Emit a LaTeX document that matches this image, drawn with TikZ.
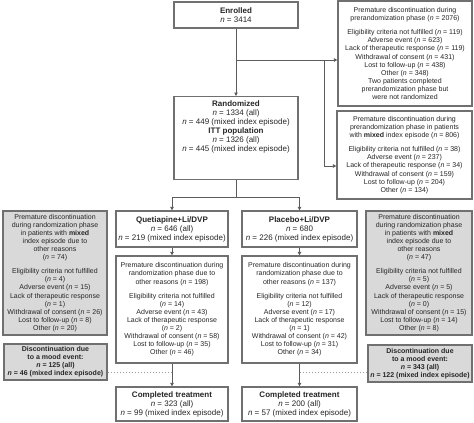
\documentclass[tikz,border=0pt]{standalone}
\usepackage{fontspec}
\setmainfont{Liberation Sans}
\usepackage{tikz}
\usetikzlibrary{arrows.meta}
\definecolor{edgegrey}{HTML}{707070}
\definecolor{wiregrey}{HTML}{5C5C5C}
\definecolor{fillgrey}{HTML}{D9D9D9}
\newcommand{\nn}{\textit{n}}
\tikzset{
  box/.style={draw=edgegrey, line width=1.3pt, fill=white, align=center, inner xsep=2pt, inner ysep=1pt, text=black!85},
  small/.style={box, font=\fontsize{7}{8.1}\selectfont},
  big/.style={box, font=\fontsize{8}{9}\selectfont},
  greybox/.style={small, fill=fillgrey},
  wire/.style={draw=wiregrey, line width=1pt},
  dots/.style={draw=edgegrey!70, line width=1pt, dash pattern=on 1pt off 2pt},
  >={Triangle[length=3.5pt,width=3.5pt]}
}

\begin{document}
\begin{tikzpicture}[x=1pt, y=-1pt]
\useasboundingbox (0,0) rectangle (474,423);
\newcommand{\colc}{236}
\newcommand{\colq}{172}
\newcommand{\colp}{299.5}
%% enrolment and randomization
\node[big, minimum width=124pt, minimum height=26pt] (enrolled) at (\colc,15) {\textbf{Enrolled}\\\nn{} = 3414};
\node[small, minimum width=134pt, minimum height=105pt] (prerand) at (405,53.5) {Premature discontinuation during\\prerandomization phase (\nn{} = 2076)\\[6pt]Eligibility criteria not fulfilled (\nn{} = 119)\\Adverse event (\nn{} = 623)\\Lack of therapeutic response (\nn{} = 119)\\Withdrawal of consent (\nn{} = 431)\\Lost to follow-up (\nn{} = 438)\\Other (\nn{} = 348)\\Two patients completed\\prerandomization phase but\\were not randomized};
\node[big, anchor=north, inner ysep=4pt, minimum width=124pt, minimum height=81pt] (randomized) at (\colc,96) {\textbf{Randomized}\\\nn{} = 1334 (all)\\\nn{} = 449 (mixed index episode)\\\textbf{ITT population}\\\nn{} = 1326 (all)\\\nn{} = 445 (mixed index episode)\rule[-24pt]{0pt}{24pt}};
\node[small, minimum width=135pt, minimum height=88pt] (mixedpre) at (404.5,155) {Premature discontinuation during\\prerandomization phase in patients\\with \textbf{mixed} index episode (\nn{} = 806)\\[6pt]Eligibility criteria not fulfilled (\nn{} = 38)\\Adverse event (\nn{} = 237)\\Lack of therapeutic response (\nn{} = 34)\\Withdrawal of consent (\nn{} = 159)\\Lost to follow-up (\nn{} = 204)\\Other (\nn{} = 134)};
%% treatment arms
\node[big, minimum width=112pt, minimum height=36pt] (quet) at (\colq,229) {\textbf{Quetiapine+Li/DVP}\\\nn{} = 646 (all)\\\nn{} = 219 (mixed index episode)};
\node[big, minimum width=115pt, minimum height=36pt] (plac) at (\colp,229) {\textbf{Placebo+Li/DVP}\\\nn{} = 680\\\nn{} = 226 (mixed index episode)};
\node[small, minimum width=112pt, minimum height=107pt] (qdisc) at (\colq,309.5) {Premature discontinuation during\\randomization phase due to\\other reasons (\nn{} = 198)\\[6pt]Eligibility criteria not fulfilled\\(\nn{} = 14)\\Adverse event (\nn{} = 43)\\Lack of therapeutic response\\(\nn{} = 2)\\Withdrawal of consent (\nn{} = 58)\\Lost to follow-up (\nn{} = 35)\\Other (\nn{} = 46)};
\node[small, minimum width=115pt, minimum height=107pt] (pdisc) at (\colp,309.5) {Premature discontinuation during\\randomization phase due to\\other reasons (\nn{} = 137)\\[6pt]Eligibility criteria not fulfilled\\(\nn{} = 12)\\Adverse event (\nn{} = 17)\\Lack of therapeutic response\\(\nn{} = 1)\\Withdrawal of consent (\nn{} = 42)\\Lost to follow-up (\nn{} = 31)\\Other (\nn{} = 34)};
\node[greybox, minimum width=104pt, minimum height=124pt] (lgrey) at (55,273) {Premature discontinuation\\during randomization phase\\in patients with \textbf{mixed}\\index episode due to\\other reasons\\(\nn{} = 74)\\[6pt]Eligibility criteria not fulfilled\\(\nn{} = 4)\\Adverse event (\nn{} = 15)\\Lack of therapeutic response\\(\nn{} = 1)\\Withdrawal of consent (\nn{} = 26)\\Lost to follow-up (\nn{} = 8)\\Other (\nn{} = 20)};
\node[greybox, minimum width=106pt, minimum height=124pt] (rgrey) at (419,273) {Premature discontinuation\\during randomization phase\\in patients with \textbf{mixed}\\index episode due to\\other reasons\\(\nn{} = 47)\\[6pt]Eligibility criteria not fulfilled\\(\nn{} = 5)\\Adverse event (\nn{} = 5)\\Lack of therapeutic response\\(\nn{} = 0)\\Withdrawal of consent (\nn{} = 15)\\Lost to follow-up (\nn{} = 14)\\Other (\nn{} = 8)};
\node[greybox, font=\fontsize{7}{8.1}\selectfont\bfseries, minimum width=103pt, minimum height=36pt] (lmood) at (55.5,362) {Discontinuation due\\to a mood event:\\\nn{} = 125 (all)\\\nn{} = 46 (mixed index episode)};
\node[greybox, font=\fontsize{7}{8.1}\selectfont\bfseries, minimum width=104pt, minimum height=37pt] (rmood) at (420,363.5) {Discontinuation due\\to a mood event:\\\nn{} = 343 (all)\\\nn{} = 122 (mixed index episode)};
\node[big, minimum width=112pt, minimum height=34pt] (qdone) at (\colq,404) {\textbf{Completed treatment}\\\nn{} = 323 (all)\\\nn{} = 99 (mixed index episode)};
\node[big, minimum width=115pt, minimum height=34pt] (pdone) at (\colp,404) {\textbf{Completed treatment}\\\nn{} = 200 (all)\\\nn{} = 57 (mixed index episode)};
%% connectors
\coordinate (split) at (\colc,60);
\coordinate (turn) at (324,60);
\coordinate (bend) at (324,166);
\coordinate (fork) at (\colc,197);
\coordinate (qdot) at (\colq,372);
\coordinate (pdot) at (\colp,372);
\draw[wire, ->] (enrolled) -- (randomized);
\draw[wire, ->] (split) -- (split -| prerand.west);
\draw[wire, ->] (turn) -- (bend) -- (bend -| mixedpre.west);
\draw[wire] (randomized) -- (fork);
\draw[wire, ->] (fork) -| (quet);
\draw[wire, ->] (fork) -| (plac);
\draw[wire, ->] (quet) -- (qdisc);
\draw[wire, ->] (plac) -- (pdisc);
\draw[wire, ->] (qdisc) -- (qdone);
\draw[wire, ->] (pdisc) -- (pdone);
\draw[dots] (lmood.east |- qdot) -- (qdot);
\draw[dots] (pdot) -- (rmood.west |- pdot);
\end{tikzpicture}
\end{document}
